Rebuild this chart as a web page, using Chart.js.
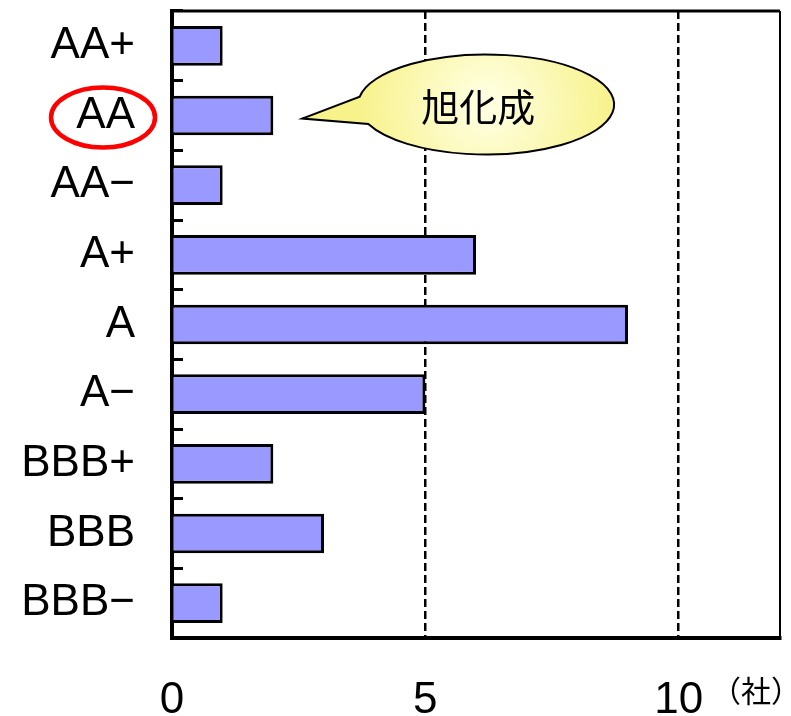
<!DOCTYPE html>
<html>
<head>
<meta charset="utf-8">
<script src="https://cdn.jsdelivr.net/npm/chart.js@4/dist/chart.umd.min.js"></script>
<style>
  html, body { margin: 0; padding: 0; background: #fff; }
</style>
</head>
<body>
<canvas id="ratingChart" width="791" height="716"></canvas>
<script>
// 格付け別の社数
var ratings = ['AA+', 'AA', 'AA\u2212', 'A+', 'A', 'A\u2212', 'BBB+', 'BBB', 'BBB\u2212'];
var companies = [1, 2, 1, 6, 9, 5, 2, 3, 1];
var xTicks = [0, 5, 10];
var xMax = 12;
var unitLabel = '（社）';
var calloutText = '旭化成';
var highlightIndex = 1; // AA

var frame = {
    id: 'frame',
    afterDatasetsDraw: function (chart) {
        var c = chart.ctx, a = chart.chartArea;
        c.save();
        c.strokeStyle = '#000';
        c.lineWidth = 3;
        c.beginPath();
        c.moveTo(a.left - 2, a.top);
        c.lineTo(a.right, a.top);
        c.stroke();
        c.lineWidth = 2;
        c.beginPath();
        c.moveTo(a.right, a.top);
        c.lineTo(a.right, a.bottom);
        c.stroke();
        c.restore();
    }
};

var callout = {
    id: 'callout',
    afterDraw: function (chart) {
        var c = chart.ctx;
        var xs = chart.scales.x, ys = chart.scales.y;
        var yRow = ys.getPixelForValue(highlightIndex);

        // 吹き出し
        var cx = xs.getPixelForValue(6.2), cy = yRow - 11;
        var rx = 128, ry = 50;
        var tipX = xs.getPixelForValue(companies[highlightIndex]) + 29, tipY = yRow + 3;
        c.save();
        var g = c.createRadialGradient(cx, cy, 10, cx, cy, rx);
        g.addColorStop(0, '#ffffe0');
        g.addColorStop(1, '#f7f28a');
        c.beginPath();
        c.ellipse(cx, cy, rx, ry, 0, 3.30, 2.74, false);
        c.lineTo(tipX, tipY);
        c.closePath();
        c.fillStyle = g;
        c.fill();
        c.lineWidth = 2;
        c.strokeStyle = '#000';
        c.stroke();
        c.fillStyle = '#000';
        c.font = '38px "Noto Sans CJK JP"';
        c.textAlign = 'center';
        c.textBaseline = 'middle';
        c.fillText(calloutText, cx - 8, cy + 2);

        // AA を赤丸で囲む
        c.beginPath();
        c.ellipse(103, yRow + 2, 52, 30, 0, 0, Math.PI * 2);
        c.lineWidth = 4.5;
        c.strokeStyle = '#f00';
        c.stroke();

        // 単位
        c.font = '30px "Noto Sans CJK JP"';
        c.fillText(unitLabel, chart.chartArea.right - 24, 691);
        c.restore();
    }
};

var ctx = document.getElementById('ratingChart').getContext('2d');
var myChart = new Chart(ctx, {
    type: 'bar',
    data: {
        labels: ratings,
        datasets: [{
            data: companies,
            backgroundColor: '#9999ff',
            borderColor: '#000',
            borderWidth: 3,
            barPercentage: 0.57,
            categoryPercentage: 1
        }]
    },
    options: {
        indexAxis: 'y',
        responsive: false,
        animation: false,
        layout: { padding: { top: 11, right: 11, left: 0, bottom: 0 } },
        plugins: {
            legend: { display: false },
            tooltip: { enabled: false }
        },
        scales: {
            x: {
                min: 0,
                max: xMax,
                afterBuildTicks: function (s) {
                    s.ticks = xTicks.map(function (v) { return { value: v }; });
                },
                afterFit: function (s) {
                    s.height = 78;
                    s.paddingLeft = 0;
                    s.paddingRight = 0;
                },
                grid: {
                    drawTicks: false,
                    lineWidth: 2.5,
                    color: function (c) {
                        var v = c.tick && c.tick.value;
                        return (v > 0 && v < xMax) ? '#000' : 'rgba(0,0,0,0)';
                    }
                },
                border: { display: true, color: '#000', width: 4, dash: [8, 4] },
                ticks: {
                    padding: 36,
                    color: '#000',
                    font: { family: '"Liberation Sans", Arial, sans-serif', size: 44 }
                }
            },
            y: {
                afterFit: function (s) {
                    s.width = 172;
                    s.paddingTop = 0;
                    s.paddingBottom = 0;
                },
                grid: {
                    offset: true,
                    drawOnChartArea: false,
                    drawTicks: true,
                    tickLength: -11,
                    lineWidth: 3,
                    color: '#000'
                },
                border: { display: true, color: '#000', width: 4 },
                ticks: {
                    padding: 48,
                    color: '#000',
                    font: { family: '"Liberation Sans", Arial, sans-serif', size: 44 }
                }
            }
        }
    },
    plugins: [frame, callout]
});
</script>
</body>
</html>
